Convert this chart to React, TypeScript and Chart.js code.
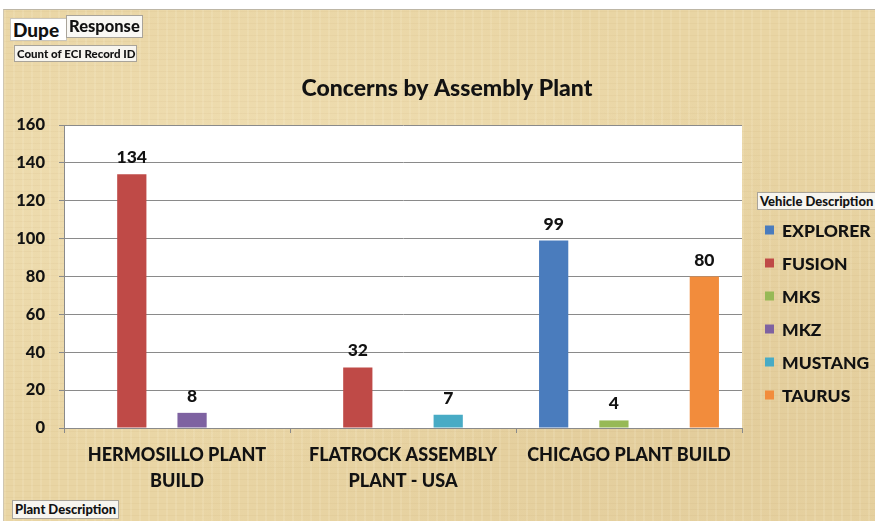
import React, { useEffect, useRef } from "react";
import { Chart, registerables } from "chart.js";

Chart.register(...registerables);

const categories: (string | string[])[] = [
  ["HERMOSILLO PLANT", "BUILD"],
  ["FLATROCK ASSEMBLY", "PLANT - USA"],
  "CHICAGO PLANT BUILD",
];
const seriesNames = ["EXPLORER", "FUSION", "MKS", "MKZ", "MUSTANG", "TAURUS"];
const explorerValues = [null, null, 99];
const fusionValues = [134, 32, null];
const mksValues = [null, null, 4];
const mkzValues = [8, null, null];
const mustangValues = [null, 7, null];
const taurusValues = [null, null, 80];
const seriesColors = ["#4A7CBD", "#BF4A47", "#97B956", "#7E62A1", "#48ABC5", "#F28C3C"];
const yMin = 0;
const yMax = 160;
const yStep = 20;
const chartTitle = "Concerns by Assembly Plant";
const legendTitle = "Vehicle Description";

const FONT = "Lato, 'Open Sans', sans-serif";
const W = "900";
const TEXT = "#121212";

const overlayPlugin = {
  id: "overlay",
  beforeDraw(chart: any) {
    const { ctx, chartArea } = chart;
    ctx.save();
    ctx.fillStyle = "#ffffff";
    ctx.fillRect(chartArea.left, chartArea.top, chartArea.right - chartArea.left, chartArea.bottom - chartArea.top);
    ctx.restore();
  },
  afterDatasetsDraw(chart: any) {
    const { ctx } = chart;
    ctx.save();
    ctx.font = `${W} 17.5px ${FONT}`;
    ctx.fillStyle = TEXT;
    ctx.textAlign = "center";
    ctx.textBaseline = "alphabetic";
    chart.data.datasets.forEach((ds: any, i: number) => {
      const meta = chart.getDatasetMeta(i);
      meta.data.forEach((el: any, j: number) => {
        const v = ds.data[j];
        if (v === null || v === undefined) return;
        ctx.fillText(String(v), el.x, el.y - 11);
      });
    });
    ctx.restore();
  },
  afterDraw(chart: any) {
    const { ctx } = chart;
    ctx.save();
    ctx.font = `${W} 23px ${FONT}`;
    ctx.fillStyle = TEXT;
    ctx.textAlign = "center";
    ctx.textBaseline = "middle";
    ctx.fillText(chartTitle, 447, 89);
    ctx.font = `${W} 17.5px ${FONT}`;
    ctx.textAlign = "left";
    chart.data.datasets.forEach((ds: any, i: number) => {
      const cy = 230 + i * 33;
      ctx.fillStyle = ds.backgroundColor;
      ctx.fillRect(765, cy - 4.5, 9, 9);
      ctx.fillStyle = TEXT;
      ctx.fillText(ds.label, 782, cy + 1);
    });
    ctx.restore();
  },
};

export default function App() {
  const canvasRef = useRef<HTMLCanvasElement | null>(null);

  useEffect(() => {
    document.body.style.margin = "0";
    let chart: Chart | null = null;
    let cancelled = false;
    const make = () => {
      if (cancelled || !canvasRef.current) return;
      const valueSets = [explorerValues, fusionValues, mksValues, mkzValues, mustangValues, taurusValues];
      chart = new Chart(canvasRef.current, {
        type: "bar",
        data: {
          labels: categories,
          datasets: seriesNames.map((name, i) => ({
            label: name,
            data: valueSets[i],
            backgroundColor: seriesColors[i],
            borderWidth: 0,
            categoryPercentage: 0.8,
            barPercentage: 0.97,
          })),
        },
        options: {
          responsive: false,
          animation: false,
          events: [],
          layout: { padding: { left: 0, right: 133, top: 125, bottom: 0 } },
          plugins: {
            legend: { display: false },
            title: { display: false },
            tooltip: { enabled: false },
          },
          scales: {
            x: {
              offset: true,
              grid: {
                display: true,
                drawOnChartArea: false,
                drawTicks: true,
                tickLength: 5,
                color: "#8a8a8a",
                offset: true,
              },
              border: { display: true, color: "#8a8a8a", width: 1 },
              ticks: {
                autoSkip: false,
                maxRotation: 0,
                minRotation: 0,
                padding: 9,
                color: TEXT,
                font: { family: FONT, weight: W, size: 18, lineHeight: 1.444 },
              },
              afterFit: (s: any) => {
                s.height = 93;
              },
            },
            y: {
              min: yMin,
              max: yMax,
              ticks: {
                stepSize: yStep,
                padding: 14,
                color: TEXT,
                font: { family: FONT, weight: W, size: 16.5 },
              },
              grid: { color: "#8a8a8a", lineWidth: 1, drawTicks: true, tickLength: 5 },
              border: { display: true, color: "#8a8a8a", width: 1 },
              afterFit: (s: any) => {
                s.width = 64;
              },
            },
          },
        },
        plugins: [overlayPlugin],
      } as any);
    };
    const fontsReady = (document as any).fonts
      ? Promise.all([
          (document as any).fonts.load(`900 16px Lato`),
          (document as any).fonts.load(`bold 16px Lato`),
        ]).catch(() => null)
      : Promise.resolve(null);
    fontsReady.then(make);
    return () => {
      cancelled = true;
      if (chart) chart.destroy();
    };
  }, []);

  const parchment: React.CSSProperties = {
    position: "absolute",
    left: 3,
    top: 9,
    width: 872,
    height: 512,
    borderTop: "1px solid #bdb6a6",
    borderLeft: "1px solid #cfc6b2",
    backgroundColor: "#E9D5A4",
    backgroundImage: [
      "repeating-linear-gradient(90deg, rgba(255,250,230,0.12) 0px, rgba(255,250,230,0.12) 2px, rgba(0,0,0,0) 2px, rgba(0,0,0,0) 9px)",
      "repeating-linear-gradient(0deg, rgba(150,110,50,0.05) 0px, rgba(150,110,50,0.05) 1px, rgba(0,0,0,0) 1px, rgba(0,0,0,0) 6px)",
      "radial-gradient(ellipse at 30% 40%, rgba(245,230,190,0.6), rgba(0,0,0,0) 60%)",
      "radial-gradient(ellipse at 80% 80%, rgba(215,190,140,0.35), rgba(0,0,0,0) 55%)",
    ].join(","),
  };

  const btn: React.CSSProperties = {
    position: "absolute",
    boxSizing: "border-box",
    background: "#f7f5ef",
    border: "1px solid #a9a49a",
    fontFamily: FONT,
    fontWeight: W as any,
    color: TEXT,
    whiteSpace: "nowrap",
    lineHeight: 1,
    display: "flex",
    alignItems: "center",
    paddingLeft: 2,
    overflow: "hidden",
  };

  return (
    <div style={{ position: "relative", width: 875, height: 521, overflow: "hidden", background: "#fff" }}>
      <div style={parchment} />
      <canvas ref={canvasRef} width={875} height={521} style={{ position: "absolute", left: 0, top: 0, width: 875, height: 521 }} />
      <div style={{ ...btn, left: 10, top: 18, width: 57, height: 23, fontSize: 19, background: "#ffffff", borderColor: "#c9c5bc" }}>Dupe</div>
      <div style={{ ...btn, left: 66, top: 15, width: 77, height: 23, fontSize: 16.5, background: "#f9f8f4" }}>Response</div>
      <div style={{ ...btn, left: 14, top: 45, width: 123, height: 17, fontSize: 11.5 }}>Count of ECI Record ID</div>
      <div style={{ ...btn, left: 12, top: 500, width: 107, height: 19, fontSize: 13 }}>Plant Description</div>
      <div style={{ ...btn, left: 757, top: 192, width: 125, height: 18, fontSize: 13 }}>{legendTitle}</div>
    </div>
  );
}
